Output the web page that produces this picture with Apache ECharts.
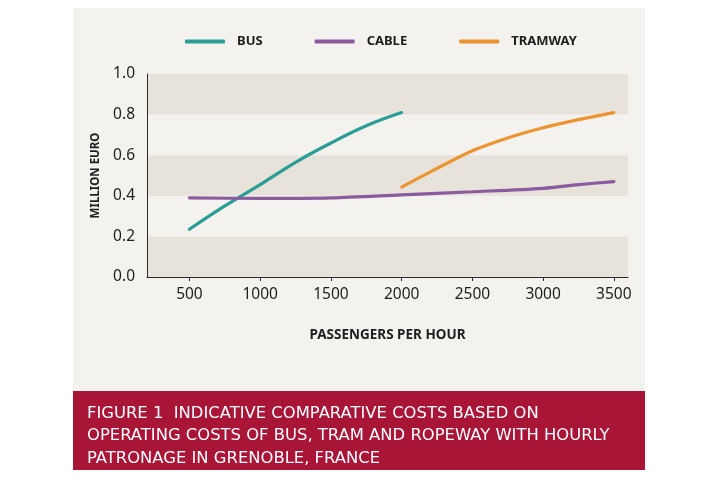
<!DOCTYPE html>
<html><head><meta charset="utf-8">
<script src="https://cdn.jsdelivr.net/npm/echarts@6/dist/echarts.min.js"></script>
<style>html,body{margin:0;padding:0;background:#fff}#c{width:724px;height:480px}</style>
</head><body><div id="c"></div>
<script>
const xTicks = [500, 1000, 1500, 2000, 2500, 3000, 3500];
const busX = [500, 750, 1000, 1250, 1500, 1750, 2000];
const busY = [0.235, 0.35, 0.455, 0.565, 0.66, 0.745, 0.81];
const cableX = [500, 1000, 1500, 2000, 2500, 3000, 3250, 3500];
const cableY = [0.39, 0.387, 0.39, 0.405, 0.42, 0.437, 0.455, 0.47];
const tramX = [2000, 2250, 2500, 2750, 3000, 3250, 3500];
const tramY = [0.443, 0.535, 0.622, 0.685, 0.735, 0.775, 0.81];
const seriesNames = ['BUS', 'CABLE', 'TRAMWAY'];
const captionLines = ['FIGURE 1  INDICATIVE COMPARATIVE COSTS BASED ON',
  'OPERATING COSTS OF BUS, TRAM AND ROPEWAY WITH HOURLY',
  'PATRONAGE IN GRENOBLE, FRANCE'];

const pair = (xs, ys) => xs.map((x, i) => [x, ys[i]]);
const colors = ['#2a9d94', '#8a5b9e', '#ec9332'];
const font = '"Noto Sans", "Liberation Sans", sans-serif';

const chart = echarts.init(document.getElementById('c'));
chart.setOption({
  animation: false,
  graphic: [
    { type: 'rect', z: -10, shape: { x: 73, y: 8, width: 572, height: 383 }, style: { fill: '#f3f2ee' } },
    { type: 'rect', z: -10, shape: { x: 73, y: 391, width: 572, height: 79 }, style: { fill: '#a81537' } },
    { type: 'text', z: 10, left: 87, top: 402, style: { text: captionLines.join('\n'), fill: '#ffffff', font: '16.4px "DejaVu Sans", sans-serif', lineHeight: 22.5 } }
  ],
  legend: {
    top: 35, left: 185, padding: 0, itemWidth: 40, itemHeight: 4, itemGap: 52, icon: 'roundRect',
    textStyle: { color: '#1e1e1e', fontWeight: 'bold', fontSize: 13, fontFamily: font, padding: [0, 0, 0, 7] },
    data: seriesNames
  },
  grid: { left: 147, right: 96, top: 74, bottom: 203 },
  xAxis: {
    type: 'value', min: 200, max: 3600,
    name: 'PASSENGERS PER HOUR', nameLocation: 'middle', nameGap: 51,
    nameTextStyle: { color: '#1e1e1e', fontWeight: 'bold', fontSize: 13.5, fontFamily: font },
    axisLine: { show: true, lineStyle: { color: '#2a2a2a', width: 1 } },
    axisTick: { show: true, length: 4, customValues: xTicks, lineStyle: { color: '#2a2a2a' } },
    axisLabel: { customValues: xTicks, color: '#1e1e1e', fontSize: 15.5, fontFamily: font, margin: 10, formatter: v => String(v) },
    splitLine: { show: false }
  },
  yAxis: {
    type: 'value', min: 0, max: 1, interval: 0.2,
    name: 'MILLION EURO', nameLocation: 'middle', nameGap: 45,
    nameTextStyle: { color: '#1e1e1e', fontWeight: 'bold', fontSize: 11.5, fontFamily: font },
    axisLine: { show: true, lineStyle: { color: '#2a2a2a', width: 1 } },
    axisTick: { show: false },
    axisLabel: { color: '#1e1e1e', fontSize: 15.5, fontFamily: font, margin: 12, formatter: v => v.toFixed(1) },
    splitLine: { show: false },
    splitArea: { show: true, areaStyle: { color: ['#e7e3db', 'rgba(0,0,0,0)'] } }
  },
  series: [
    { name: seriesNames[0], type: 'line', data: pair(busX, busY), smooth: 0.4, showSymbol: false, lineStyle: { color: colors[0], width: 3.2, cap: 'round' }, itemStyle: { color: colors[0] } },
    { name: seriesNames[1], type: 'line', data: pair(cableX, cableY), smooth: 0.3, showSymbol: false, lineStyle: { color: colors[1], width: 3.2, cap: 'round' }, itemStyle: { color: colors[1] } },
    { name: seriesNames[2], type: 'line', data: pair(tramX, tramY), smooth: 0.3, showSymbol: false, lineStyle: { color: colors[2], width: 3.2, cap: 'round' }, itemStyle: { color: colors[2] } }
  ]
});
</script></body></html>
